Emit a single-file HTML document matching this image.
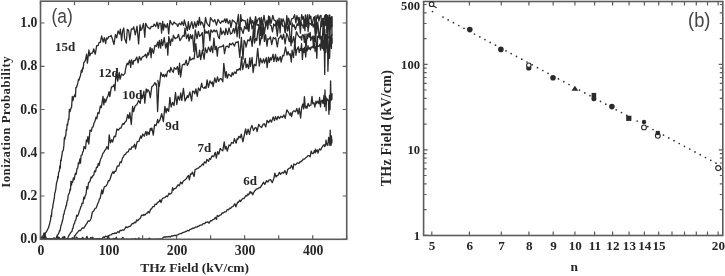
<!DOCTYPE html>
<html><head><meta charset="utf-8"><title>Figure</title>
<style>html,body{margin:0;padding:0;background:#fff;width:725px;height:276px;overflow:hidden}svg{display:block;filter:grayscale(1) blur(0.3px)}</style>
</head><body>
<svg width="725" height="276" viewBox="0 0 725 276">
<rect width="725" height="276" fill="#fff"/>
<path d="M40.5 239.3v-4 M40.5 1.2v4 M74.5 239.3v-4 M74.5 1.2v4 M108.5 239.3v-4 M108.5 1.2v4 M142.6 239.3v-4 M142.6 1.2v4 M176.6 239.3v-4 M176.6 1.2v4 M210.6 239.3v-4 M210.6 1.2v4 M244.6 239.3v-4 M244.6 1.2v4 M278.7 239.3v-4 M278.7 1.2v4 M312.7 239.3v-4 M312.7 1.2v4 M346.7 239.3v-4 M346.7 1.2v4 M40.5 239.3h4 M346.7 239.3h-4 M40.5 196.0h4 M346.7 196.0h-4 M40.5 152.8h4 M346.7 152.8h-4 M40.5 109.5h4 M346.7 109.5h-4 M40.5 66.3h4 M346.7 66.3h-4 M40.5 23.0h4 M346.7 23.0h-4" stroke="#5c5c5c" stroke-width="1.2" fill="none"/>
<path d="M41.0 239.2 L42.4 237.7 L43.2 235.4 L44.0 233.9 L45.5 232.8 L46.5 231.8 L47.6 229.4 L48.4 228.0 L49.2 225.2 L49.6 224.0 L50.0 221.8 L50.5 220.2 L51.0 215.5 L51.5 216.5 L52.0 209.7 L52.6 208.2 L53.1 204.2 L53.5 202.3 L53.9 199.9 L54.3 198.2 L54.8 192.8 L55.3 192.0 L55.9 188.4 L56.4 183.8 L56.9 181.5 L57.4 180.3 L57.8 176.4 L58.2 177.9 L58.6 172.5 L59.0 171.7 L59.4 171.1 L59.8 166.0 L60.3 168.0 L60.7 159.8 L61.1 160.9 L61.6 156.9 L62.0 155.0 L62.4 151.5 L62.9 151.0 L63.4 149.7 L63.9 145.4 L64.4 137.7 L64.9 139.2 L65.3 136.0 L65.8 135.8 L66.2 129.6 L66.7 130.2 L67.1 124.2 L67.5 125.5 L68.0 122.2 L68.5 118.8 L68.9 119.4 L69.4 109.3 L70.1 111.7 L70.8 108.7 L71.6 107.1 L72.3 96.5 L73.0 100.6 L73.6 96.8 L74.2 96.6 L74.8 94.6 L75.4 96.8 L75.9 87.5 L76.5 87.5 L77.2 85.3 L77.9 82.7 L78.5 79.4 L79.1 80.1 L79.8 77.1 L80.4 76.0 L81.4 70.2 L82.1 72.2 L82.6 67.8 L83.1 69.0 L83.8 62.6 L84.5 62.0 L85.5 59.9 L86.6 54.2 L87.4 63.1 L88.9 50.0 L89.8 55.8 L90.9 53.1 L92.5 53.2 L93.7 48.8 L95.3 54.2 L96.7 45.6 L98.2 45.7 L99.1 42.3 L100.4 42.4 L101.6 36.0 L103.2 42.1 L104.3 37.6 L105.7 43.5 L106.5 37.9 L107.6 39.0 L108.7 36.6 L109.6 36.7 L111.2 35.5 L112.3 38.8 L114.0 44.5 L115.4 34.6 L116.7 37.8 L118.1 30.9 L119.5 34.1 L120.4 29.2 L121.6 40.6 L122.6 31.2 L123.8 28.0 L124.6 38.4 L126.3 43.1 L127.3 29.3 L128.7 30.6 L129.8 40.0 L131.4 28.9 L132.8 29.2 L133.7 26.8 L135.3 34.9 L137.0 26.2 L138.6 43.9 L140.0 24.8 L140.9 30.3 L141.8 29.0 L143.5 23.5 L144.8 37.3 L145.7 23.3 L147.3 26.8 L148.7 27.9 L150.1 28.9 L151.2 26.4 L152.3 26.6 L153.3 26.2 L154.1 24.1 L155.7 26.5 L157.0 22.2 L158.3 28.4 L159.3 23.1 L160.8 23.3 L161.6 33.2 L162.7 21.5 L163.5 30.0 L164.4 24.1 L166.1 27.6 L167.5 23.5 L168.7 33.9 L170.0 20.4 L171.6 23.7 L172.7 24.8 L174.0 22.0 L175.5 23.7 L176.6 23.9 L177.8 26.4 L179.3 23.1 L181.0 24.9 L181.9 21.7 L183.6 25.4 L184.3 20.0 L185.8 25.3 L187.4 30.7 L188.3 21.7 L189.5 29.4 L191.0 23.8 L191.8 21.6 L193.2 28.7 L194.7 21.9 L196.0 27.3 L197.5 20.8 L198.4 25.5 L199.4 17.4 L200.5 24.9 L201.4 21.9 L202.5 23.0 L204.2 28.2 L205.5 17.5 L206.6 22.6 L207.7 24.3 L209.4 26.4 L210.5 17.7 L212.3 20.4 L213.5 21.7 L214.8 19.6 L216.5 25.2 L218.0 19.3 L219.3 21.5 L220.5 23.4 L222.1 20.9 L223.3 21.9 L224.9 18.9 L225.7 22.6 L226.9 18.7 L228.2 23.7 L229.9 20.3 L230.9 27.5 L232.4 20.0 L233.9 21.2 L235.3 22.6 L236.7 25.1 L238.4 14.5 L239.5 38.0 L240.7 14.6 L241.6 21.3 L242.4 19.7 L243.4 20.6 L245.1 20.7 L246.6 28.5 L247.5 19.2 L248.9 31.1 L250.1 17.2 L251.4 23.8 L252.8 20.7 L253.9 26.3 L255.6 16.6 L256.8 22.9 L258.2 19.0 L259.6 17.9 L260.5 35.7 L261.3 17.4 L262.5 24.8 L264.0 15.4 L265.6 25.7 L267.1 20.1 L267.9 25.4 L269.6 16.7 L271.1 23.4 L272.8 15.3 L274.0 19.9 L275.7 21.1 L276.5 29.9 L277.3 19.9 L278.1 25.2 L279.1 18.1 L280.1 32.9 L281.0 18.7 L282.3 22.0 L283.1 18.8 L284.4 22.6 L285.4 32.7 L286.8 15.6 L287.6 24.4 L288.6 18.1 L290.3 24.7 L291.6 18.8 L293.2 18.3 L294.6 14.7 L295.9 22.8 L296.9 15.6 L298.2 20.6 L299.0 17.6 L300.5 24.8 L301.7 14.6 L302.8 19.3 L303.3 16.7 L304.1 22.8 L304.8 23.8 L305.4 14.8 L306.3 25.7 L307.4 14.8 L308.1 31.8 L309.2 14.7 L310.2 18.5 L310.8 16.2 L311.9 25.4 L313.0 20.5 L313.6 17.8 L314.5 16.8 L315.5 39.6 L316.4 17.6 L317.0 18.3 L317.9 14.9 L318.9 21.2 L319.9 16.0 L321.0 15.4 L321.7 26.6 L322.7 18.5 L323.8 19.4 L324.9 15.3 L325.3 24.2 L325.6 14.7 L326.1 22.4 L326.4 15.1 L326.9 17.1 L327.5 15.4 L327.9 25.4 L328.3 17.7 L328.7 20.2 L329.2 14.9 L329.5 22.5 L329.9 15.5 L330.2 27.1 L330.7 17.6 L331.3 23.1 L331.7 17.7 L332.0 35.7" fill="none" stroke="#2a2a2a" stroke-width="1.3" stroke-linejoin="round"/>
<path d="M41.0 239.2 L42.1 237.1 L43.5 239.2 L44.8 239.2 L46.5 239.2 L47.6 239.2 L48.8 239.0 L50.1 239.2 L51.8 239.2 L53.2 239.2 L54.4 239.2 L56.0 239.2 L57.2 235.2 L58.1 234.4 L58.9 232.9 L59.5 230.7 L60.0 230.9 L60.9 226.0 L61.6 224.0 L62.4 220.8 L63.0 219.0 L63.5 214.5 L64.0 214.4 L64.5 211.1 L65.1 209.4 L65.5 208.5 L66.0 205.7 L66.4 205.7 L67.1 200.9 L67.7 200.3 L68.1 196.1 L68.5 194.4 L69.3 193.4 L70.1 189.0 L70.5 190.2 L70.9 181.2 L71.5 185.1 L72.0 181.6 L72.6 182.4 L73.4 177.9 L74.2 179.6 L75.3 173.3 L76.2 174.2 L77.0 168.6 L77.8 167.9 L78.4 162.8 L79.0 163.9 L79.9 158.8 L80.5 163.1 L81.1 155.3 L82.1 155.0 L82.7 152.0 L83.3 151.3 L84.0 146.3 L84.7 147.7 L85.5 148.7 L86.4 139.8 L87.1 141.9 L87.9 136.6 L88.8 144.0 L90.0 130.1 L91.3 131.3 L92.2 127.2 L93.0 127.2 L93.9 123.6 L95.1 120.8 L96.0 117.2 L96.8 118.8 L97.9 112.6 L99.0 113.5 L100.3 106.0 L101.3 107.6 L103.0 96.4 L103.8 104.8 L104.8 98.9 L105.6 102.2 L107.1 97.6 L108.1 95.5 L109.0 91.7 L109.8 96.6 L111.4 87.2 L113.1 86.4 L114.1 84.7 L114.9 90.5 L116.0 73.0 L117.7 81.1 L119.2 72.5 L120.0 79.2 L121.5 74.0 L123.2 75.3 L124.9 73.3 L125.6 69.1 L126.3 65.7 L127.2 63.2 L128.0 64.8 L129.6 60.1 L130.7 67.4 L131.5 59.8 L133.0 64.5 L133.9 60.4 L135.0 60.7 L136.8 57.1 L138.1 62.8 L139.3 56.6 L141.0 60.1 L142.1 57.2 L143.8 56.4 L145.5 54.3 L146.6 57.8 L147.7 53.0 L148.5 55.0 L150.2 47.5 L151.1 57.8 L151.9 48.4 L153.5 53.3 L154.9 45.4 L156.3 46.3 L157.8 42.0 L158.6 47.9 L159.4 40.3 L160.7 48.2 L161.5 39.3 L162.7 45.6 L164.2 37.5 L165.6 48.0 L167.0 42.6 L167.8 55.1 L168.8 36.4 L170.4 45.5 L171.3 38.9 L172.6 41.3 L173.4 35.2 L175.1 38.7 L176.0 37.8 L177.2 37.9 L178.5 34.3 L179.9 40.7 L181.6 38.0 L183.1 35.4 L184.2 36.3 L185.0 28.1 L186.5 38.5 L188.2 34.2 L189.0 41.1 L190.5 34.7 L191.4 38.6 L192.6 34.9 L193.9 51.6 L195.3 29.8 L197.0 38.7 L198.4 31.3 L199.6 36.3 L201.0 35.0 L202.3 32.6 L203.4 50.3 L204.5 29.2 L205.8 33.4 L206.8 31.5 L207.8 33.3 L208.7 30.7 L209.9 40.6 L210.9 29.9 L212.5 32.2 L214.1 30.0 L215.2 31.8 L216.6 30.2 L218.2 36.6 L219.4 38.6 L220.7 28.0 L221.8 34.5 L223.3 30.9 L225.0 34.9 L225.8 28.5 L227.6 34.6 L229.0 27.8 L230.5 34.0 L231.9 33.3 L233.5 28.4 L234.6 33.1 L236.1 25.0 L237.1 36.8 L238.3 26.4 L239.8 29.7 L240.7 27.4 L241.5 29.1 L243.1 33.4 L244.6 26.5 L246.0 28.9 L247.1 26.5 L248.5 31.1 L249.4 24.2 L250.8 19.1 L252.1 29.0 L253.5 25.2 L254.7 37.1 L255.6 20.4 L257.1 25.3 L258.3 24.5 L259.8 29.8 L260.9 20.1 L261.8 36.7 L263.1 23.7 L264.4 33.4 L266.1 21.4 L267.8 29.0 L268.6 15.8 L270.1 25.1 L271.1 25.6 L272.5 31.8 L273.7 24.0 L274.7 25.7 L276.0 23.4 L277.3 36.2 L278.7 23.3 L280.1 28.4 L281.5 20.8 L282.7 26.1 L284.1 26.1 L285.2 32.5 L286.5 22.3 L287.7 31.0 L289.1 23.2 L289.8 35.0 L291.1 45.6 L292.0 23.0 L293.2 26.5 L294.0 24.9 L295.4 29.5 L297.1 23.9 L298.2 25.7 L299.0 17.4 L300.4 33.1 L301.0 22.3 L302.1 25.2 L302.7 25.2 L303.4 28.2 L304.3 19.7 L304.9 30.6 L305.6 21.1 L306.3 25.8 L307.3 26.9 L308.5 28.1 L309.2 22.8 L310.3 24.1 L310.9 23.7 L311.8 24.9 L312.6 24.1 L313.3 27.2 L314.4 23.0 L315.4 33.4 L316.0 15.7 L316.7 33.3 L317.8 22.2 L319.0 35.3 L319.9 36.0 L321.0 21.7 L322.2 24.7 L323.2 20.1 L324.1 31.9 L324.5 21.1 L324.9 25.9 L325.4 20.2 L326.0 25.2 L326.4 14.6 L326.8 32.7 L327.0 17.7 L327.6 17.4 L328.0 35.6 L328.6 21.2 L328.9 22.4 L329.4 20.7 L329.9 44.2 L330.4 19.6 L330.7 28.5 L331.1 19.3 L331.7 16.6 L332.0 26.5 L332.0 15.9" fill="none" stroke="#2a2a2a" stroke-width="1.3" stroke-linejoin="round"/>
<path d="M41.0 237.0 L42.7 239.2 L43.6 239.2 L44.9 239.2 L45.7 236.7 L46.7 239.2 L48.2 239.2 L49.0 239.2 L50.1 239.2 L51.1 239.2 L52.7 239.2 L53.5 239.2 L54.6 239.2 L56.2 239.2 L57.6 236.4 L59.1 239.2 L60.8 239.2 L61.6 239.2 L63.0 239.2 L64.5 238.6 L66.0 239.2 L67.5 239.2 L68.3 236.8 L69.1 235.2 L70.7 232.6 L71.3 231.9 L72.0 231.3 L72.5 228.5 L73.0 228.4 L73.8 224.0 L74.4 223.8 L75.1 220.9 L75.9 219.8 L76.7 215.2 L77.4 216.3 L78.5 214.2 L79.3 211.1 L80.1 209.2 L80.9 206.5 L81.5 205.8 L82.1 203.2 L83.0 203.5 L83.8 197.2 L84.5 198.8 L85.2 195.7 L85.8 194.6 L86.3 192.3 L86.8 186.6 L87.7 188.8 L88.5 183.0 L89.3 182.0 L90.0 181.4 L91.1 177.0 L91.9 177.8 L92.7 175.9 L93.8 174.9 L94.6 170.9 L95.5 171.8 L96.5 167.2 L97.4 167.4 L98.3 163.5 L99.1 165.3 L99.8 162.0 L100.6 159.2 L101.6 157.2 L102.8 153.6 L104.2 151.6 L105.0 150.0 L105.9 149.2 L106.8 146.7 L108.3 149.1 L109.2 134.9 L110.5 142.9 L111.6 139.8 L112.6 142.1 L114.2 136.1 L115.5 136.7 L116.9 128.9 L118.4 130.1 L119.9 128.1 L120.9 128.2 L121.8 125.7 L123.0 123.5 L123.9 124.4 L124.7 122.5 L126.3 120.9 L127.7 114.6 L128.9 118.5 L129.8 112.6 L131.3 124.5 L132.6 106.3 L133.5 111.7 L135.2 105.7 L136.9 104.6 L138.6 100.5 L140.2 103.4 L141.5 94.8 L142.5 98.2 L143.9 91.2 L144.8 103.1 L146.2 88.9 L147.0 92.2 L147.8 89.7 L149.2 91.4 L150.3 97.7 L151.8 86.8 L153.3 85.5 L154.9 82.6 L156.2 85.4 L156.6 84.0 L157.6 111.5 L158.8 86.0 L157.8 80.5 L159.3 86.4 L160.9 72.5 L162.6 76.4 L163.4 74.4 L164.4 76.8 L165.5 74.3 L166.5 76.7 L167.5 71.4 L169.1 70.2 L169.9 72.4 L170.8 67.5 L172.3 71.1 L173.3 72.2 L174.3 67.7 L176.0 69.2 L177.5 66.6 L178.7 74.5 L179.6 63.1 L180.6 77.0 L182.3 65.1 L183.9 64.1 L184.7 64.9 L186.2 60.1 L187.3 65.4 L188.8 62.7 L189.8 56.8 L190.7 60.2 L191.5 59.6 L192.5 58.5 L194.1 58.8 L195.8 43.6 L197.2 57.3 L198.7 56.9 L199.6 50.2 L200.7 59.7 L202.4 50.0 L204.1 59.1 L205.3 48.0 L206.8 52.9 L208.5 47.1 L210.3 51.6 L211.3 46.2 L212.7 52.6 L213.9 38.1 L215.1 49.8 L216.3 46.3 L217.3 56.2 L218.1 48.0 L219.6 46.9 L221.0 46.9 L222.6 46.1 L223.5 45.0 L224.5 53.7 L225.9 46.6 L227.6 46.1 L228.8 47.6 L229.7 43.4 L231.1 44.7 L232.8 43.0 L234.4 46.1 L236.0 42.1 L237.2 42.4 L238.2 41.4 L239.8 57.4 L241.4 37.5 L243.0 59.3 L244.1 40.4 L245.2 42.3 L246.1 47.2 L247.8 39.8 L249.4 40.9 L250.6 36.5 L252.2 46.3 L253.3 30.2 L254.5 43.0 L255.8 38.2 L256.8 40.5 L257.8 31.5 L258.8 27.7 L259.8 45.2 L261.1 37.5 L262.0 38.6 L263.5 27.4 L264.4 41.4 L265.6 34.7 L267.0 46.2 L267.9 38.7 L269.0 39.3 L270.4 36.8 L271.7 44.7 L273.3 37.4 L274.8 38.9 L275.7 37.8 L277.3 46.8 L278.6 38.4 L280.0 37.3 L280.9 34.9 L282.2 39.4 L283.6 34.2 L285.1 44.0 L286.7 33.4 L287.7 35.7 L289.3 41.5 L290.6 36.7 L292.0 42.9 L293.6 36.7 L294.7 44.3 L296.4 31.7 L298.0 35.1 L299.6 37.3 L300.7 36.8 L301.6 40.2 L302.2 34.8 L303.3 34.8 L304.4 42.3 L305.0 34.1 L306.0 50.4 L307.0 34.0 L307.5 38.7 L308.7 33.6 L309.5 37.2 L310.2 32.4 L310.7 40.5 L311.8 37.5 L312.5 36.3 L313.4 45.4 L314.0 36.0 L314.9 41.6 L315.7 34.1 L316.8 58.3 L317.7 36.1 L318.7 37.4 L319.4 32.3 L320.0 39.2 L321.1 36.1 L322.2 43.2 L323.2 22.5 L324.3 41.2 L324.8 29.5 L325.3 41.3 L325.7 34.7 L326.1 38.8 L326.6 34.6 L326.9 48.1 L327.4 31.1 L327.8 40.8 L328.1 38.0 L328.5 37.9 L328.9 36.8 L329.4 36.3 L329.9 38.2 L330.4 44.6 L330.9 36.1 L331.4 48.5 L331.8 34.4 L332.0 41.9" fill="none" stroke="#2a2a2a" stroke-width="1.3" stroke-linejoin="round"/>
<path d="M41.0 239.2 L42.3 239.2 L43.7 239.2 L44.8 239.2 L45.7 239.2 L47.2 239.2 L48.8 239.2 L49.7 239.2 L50.6 239.2 L51.7 239.2 L53.1 239.2 L54.2 239.2 L55.9 239.2 L57.4 239.0 L59.1 237.4 L60.5 239.2 L62.0 239.0 L63.7 239.2 L64.5 236.5 L65.8 239.2 L66.7 239.2 L68.3 239.2 L69.2 239.2 L70.7 239.2 L71.8 239.2 L73.2 239.2 L74.6 236.3 L76.3 233.8 L77.9 231.9 L79.1 230.3 L80.6 230.5 L81.5 229.0 L82.3 228.0 L83.8 228.2 L85.5 225.3 L87.0 223.2 L88.2 220.8 L89.6 221.2 L91.1 218.5 L92.4 212.0 L93.5 211.3 L95.1 208.4 L96.2 208.0 L97.9 203.3 L98.7 201.8 L99.4 199.0 L100.2 198.2 L101.0 194.2 L101.8 189.8 L102.6 193.8 L103.4 190.5 L104.3 186.8 L106.0 186.1 L107.3 184.0 L108.4 180.6 L109.2 180.9 L109.9 179.5 L111.6 174.3 L113.0 171.5 L113.8 173.4 L114.6 171.4 L115.8 171.3 L117.3 166.0 L118.9 166.1 L120.1 161.8 L121.3 162.6 L122.6 157.7 L123.4 157.1 L124.2 155.0 L125.5 154.4 L126.7 152.3 L128.3 151.7 L129.3 148.9 L130.9 149.4 L131.9 146.8 L133.2 147.2 L134.6 144.2 L135.5 148.8 L137.2 141.7 L138.9 141.3 L140.7 135.9 L141.4 138.4 L142.8 134.0 L144.2 136.2 L145.9 131.3 L146.8 135.3 L147.7 131.8 L149.2 134.6 L150.3 128.4 L151.1 130.3 L151.9 128.0 L153.3 135.2 L154.6 124.7 L156.1 125.6 L157.7 119.4 L158.4 122.8 L160.1 119.5 L161.7 113.7 L163.4 121.5 L164.9 106.4 L166.1 112.9 L167.0 108.4 L168.7 111.3 L169.9 97.3 L171.1 107.0 L172.6 102.4 L174.0 105.6 L175.5 92.5 L176.8 104.5 L178.1 96.2 L179.6 100.1 L180.7 93.0 L181.8 100.4 L183.4 88.4 L185.0 101.0 L186.5 97.9 L187.4 95.6 L188.2 97.7 L189.9 92.0 L191.6 100.9 L192.6 91.2 L194.0 91.7 L194.7 93.8 L195.9 88.8 L197.3 96.4 L198.4 88.0 L200.0 90.7 L201.7 83.2 L202.5 87.3 L204.0 88.3 L205.1 86.8 L206.0 88.3 L207.1 79.9 L208.4 87.3 L210.0 81.0 L211.5 83.8 L212.3 81.9 L213.1 86.6 L214.8 77.8 L216.1 82.6 L217.5 76.9 L218.6 81.3 L220.2 78.7 L221.5 78.8 L222.8 81.8 L223.8 63.4 L225.4 77.1 L226.3 71.6 L227.2 78.2 L228.6 74.2 L230.1 75.3 L231.2 76.6 L232.2 72.7 L233.1 75.1 L234.5 71.9 L236.0 73.5 L236.9 69.6 L238.2 70.2 L239.5 68.5 L240.3 70.1 L241.6 56.9 L242.6 69.5 L243.6 65.4 L245.3 58.4 L246.1 67.7 L247.2 64.2 L248.6 68.6 L249.8 57.9 L250.5 66.4 L252.1 57.5 L253.1 72.5 L254.3 64.3 L256.0 65.7 L257.7 48.3 L259.3 66.0 L260.5 58.4 L262.0 62.9 L263.6 58.8 L264.5 63.1 L266.3 57.6 L267.1 67.6 L268.5 57.1 L269.5 62.4 L270.5 57.7 L271.4 60.0 L273.1 54.2 L273.9 61.7 L275.6 54.5 L276.5 61.7 L277.6 57.2 L278.5 60.7 L280.3 56.6 L281.1 62.1 L282.7 55.5 L283.8 55.8 L285.5 47.0 L287.0 55.1 L288.0 51.6 L289.3 55.0 L290.2 53.8 L291.3 62.0 L292.1 50.1 L293.5 57.5 L294.9 40.9 L295.9 55.3 L296.7 50.1 L298.4 46.9 L299.2 52.7 L300.3 48.6 L300.8 50.4 L301.6 43.7 L302.4 59.4 L303.3 48.4 L304.0 52.3 L304.7 47.2 L305.7 57.0 L306.4 48.5 L307.2 50.9 L308.0 45.7 L308.7 49.2 L309.7 47.7 L310.3 49.9 L311.0 47.1 L311.8 47.8 L312.5 46.2 L313.6 47.9 L314.3 42.9 L315.1 51.5 L315.9 46.6 L317.0 47.0 L317.7 45.9 L318.7 46.4 L319.9 44.2 L320.6 50.0 L321.2 38.8 L322.3 48.4 L323.0 38.0 L323.6 50.2 L324.2 40.4 L324.7 74.4 L325.3 36.3 L325.9 52.3 L326.4 42.5 L326.8 47.6 L327.4 33.5 L327.9 71.3 L328.6 50.5 L329.1 40.6 L329.6 58.3 L330.1 42.2 L330.4 47.0 L330.8 42.4 L331.1 41.9 L331.7 38.2 L332.0 44.0" fill="none" stroke="#2a2a2a" stroke-width="1.3" stroke-linejoin="round"/>
<path d="M41.0 238.1 L42.6 236.5 L44.2 238.1 L45.2 239.2 L46.2 238.4 L47.1 239.2 L48.1 239.0 L49.0 239.2 L50.5 239.2 L51.3 239.2 L52.3 239.2 L53.8 237.9 L55.3 238.3 L57.0 239.2 L58.2 238.6 L59.0 239.2 L60.5 239.2 L61.6 239.2 L63.1 236.8 L63.9 239.2 L64.6 238.3 L66.0 239.2 L67.4 239.1 L68.7 239.2 L70.0 239.2 L71.4 239.2 L72.2 237.7 L73.1 239.1 L74.2 239.2 L75.5 239.2 L76.5 239.2 L77.4 239.2 L78.6 239.2 L79.7 238.5 L80.8 239.2 L82.4 238.4 L84.1 239.2 L84.9 239.2 L86.2 239.2 L87.1 239.2 L88.2 239.2 L89.0 239.2 L89.8 239.2 L90.6 237.6 L91.5 238.4 L92.9 237.5 L93.7 239.2 L95.4 239.2 L96.9 239.2 L97.9 239.2 L99.4 239.0 L101.1 238.8 L101.9 239.2 L103.3 236.9 L104.5 237.3 L105.5 236.2 L106.6 236.7 L107.4 236.3 L108.8 235.8 L109.7 235.1 L110.9 234.9 L112.6 233.6 L113.7 233.6 L114.8 233.0 L116.4 233.3 L117.8 231.6 L119.1 232.6 L120.1 230.3 L121.5 230.5 L122.6 229.9 L123.9 230.2 L125.0 228.6 L125.9 226.8 L127.5 227.6 L128.9 226.5 L130.6 226.1 L131.7 224.2 L132.7 223.3 L133.6 223.6 L134.7 222.1 L135.7 222.7 L136.7 219.9 L137.7 220.9 L138.7 219.4 L140.3 218.2 L141.5 215.2 L143.1 215.5 L143.9 214.4 L144.9 215.1 L146.6 213.1 L147.4 213.2 L148.2 211.5 L149.4 212.9 L150.5 209.2 L151.4 209.0 L152.8 206.6 L154.1 206.7 L155.1 204.1 L156.4 204.4 L157.6 202.4 L159.2 201.7 L160.0 199.8 L161.0 202.6 L162.3 198.5 L163.1 198.2 L164.7 197.7 L166.4 196.0 L167.5 196.7 L169.0 193.2 L170.0 194.2 L171.7 193.0 L172.6 187.6 L173.4 190.1 L174.2 188.7 L175.4 188.3 L176.2 187.9 L178.0 184.8 L179.3 185.8 L180.7 182.0 L182.0 183.9 L183.2 181.3 L184.8 180.0 L186.3 178.7 L187.5 176.6 L188.5 175.5 L189.4 179.8 L190.5 173.9 L191.6 174.2 L192.4 172.1 L194.1 176.5 L195.1 169.6 L196.4 169.1 L197.2 168.4 L198.5 168.2 L199.9 166.5 L200.7 166.5 L202.4 164.0 L203.4 165.1 L204.4 161.8 L205.9 163.0 L206.9 159.3 L208.6 161.3 L209.6 158.4 L210.6 159.3 L212.1 155.8 L213.7 156.6 L215.3 152.3 L216.3 158.0 L217.6 151.6 L218.8 154.3 L220.2 148.5 L221.2 149.7 L222.8 150.8 L224.2 141.8 L225.2 149.1 L226.2 146.5 L227.3 151.1 L229.0 145.0 L230.2 145.8 L231.6 142.4 L233.3 143.3 L234.4 138.7 L236.1 143.2 L237.1 138.6 L237.9 139.4 L238.8 136.3 L240.2 137.9 L241.3 134.2 L242.9 141.9 L244.2 135.5 L245.6 129.0 L246.7 134.6 L248.1 129.1 L249.5 134.4 L250.6 128.7 L251.9 125.4 L253.5 130.5 L255.2 127.6 L256.3 127.9 L257.1 131.7 L258.7 124.4 L259.9 126.2 L261.6 127.5 L263.1 124.4 L264.2 123.7 L265.8 126.9 L267.1 120.3 L268.6 122.6 L270.2 119.9 L271.5 122.1 L273.2 116.9 L274.4 120.6 L275.5 116.7 L276.9 119.8 L278.1 116.3 L279.5 118.5 L280.8 116.3 L282.3 117.6 L283.9 114.9 L285.2 118.3 L286.8 110.0 L288.4 112.2 L290.0 115.2 L290.8 112.7 L291.5 116.6 L292.9 111.6 L294.0 110.8 L295.6 111.8 L296.8 108.4 L298.2 114.0 L299.2 108.2 L300.6 118.0 L301.7 107.4 L302.8 104.0 L303.6 108.8 L304.4 96.6 L305.3 107.9 L306.1 106.1 L306.9 108.4 L308.1 103.3 L309.2 106.2 L309.9 105.4 L310.9 105.2 L312.0 96.3 L312.8 103.8 L313.9 102.7 L314.9 107.0 L316.0 101.1 L316.6 103.5 L317.7 101.2 L318.9 103.8 L319.6 97.5 L320.5 106.9 L321.1 101.2 L322.0 100.2 L323.0 103.6 L324.0 95.4 L324.6 106.6 L325.0 89.9 L325.3 103.8 L325.9 97.0 L326.1 110.7 L326.5 98.3 L326.8 100.5 L327.4 99.1 L327.8 100.4 L328.4 100.2 L328.9 114.3 L329.5 95.4 L330.0 109.7 L330.6 80.8 L331.0 100.5 L331.4 94.1 L331.9 99.4 L332.0 93.2" fill="none" stroke="#2a2a2a" stroke-width="1.3" stroke-linejoin="round"/>
<path d="M41.0 239.2 L42.7 239.2 L44.4 239.2 L45.7 239.2 L46.7 239.2 L47.9 239.2 L48.9 238.9 L50.0 239.2 L51.1 239.2 L52.0 239.2 L52.8 239.2 L54.3 238.6 L55.1 239.2 L56.4 238.2 L57.5 239.2 L58.9 239.2 L60.3 239.2 L61.5 239.2 L63.0 239.2 L64.3 239.2 L66.0 239.2 L67.3 239.2 L68.9 239.2 L70.6 239.2 L72.0 238.7 L73.1 238.4 L74.3 239.2 L75.2 239.2 L76.6 237.1 L78.0 239.2 L79.6 239.2 L80.4 238.6 L81.3 239.2 L82.7 237.5 L84.2 239.2 L85.0 239.2 L85.8 239.2 L86.9 236.3 L88.0 239.2 L88.8 239.2 L89.6 239.2 L90.6 239.2 L91.3 239.2 L92.2 237.4 L93.0 239.2 L94.1 239.2 L95.6 239.2 L97.0 238.7 L98.4 239.2 L99.6 238.7 L100.5 239.2 L101.3 239.2 L102.3 239.2 L104.0 239.2 L105.5 238.8 L106.9 239.2 L108.2 236.7 L109.7 239.2 L111.3 239.2 L112.3 239.2 L113.8 238.4 L115.2 239.2 L116.3 237.3 L117.3 239.2 L118.2 239.2 L119.5 239.2 L121.2 239.2 L122.8 237.4 L123.7 238.9 L124.6 239.2 L125.6 239.2 L126.5 239.2 L127.4 239.2 L128.9 239.2 L129.9 239.2 L131.3 239.2 L132.3 239.0 L134.1 239.2 L135.4 238.6 L136.3 238.9 L137.8 239.2 L138.9 237.9 L140.1 239.2 L141.1 239.2 L142.3 239.2 L143.4 239.2 L144.5 239.2 L145.4 239.2 L147.1 239.2 L148.0 239.2 L149.1 238.1 L150.2 239.0 L151.1 239.2 L152.1 239.2 L153.2 239.2 L154.6 239.2 L155.9 239.2 L157.0 238.9 L158.4 239.2 L159.9 238.8 L160.9 239.1 L161.9 239.0 L163.3 237.3 L164.4 236.8 L166.0 237.0 L166.8 236.7 L168.1 236.8 L169.2 236.4 L170.1 237.1 L171.7 235.8 L172.7 236.0 L174.3 235.3 L175.9 235.5 L177.6 234.8 L178.4 234.4 L179.3 234.0 L180.2 233.7 L181.3 233.5 L182.9 232.6 L184.3 232.2 L185.2 231.7 L186.1 231.5 L187.6 230.4 L188.9 230.8 L189.7 229.6 L191.0 229.2 L192.0 228.7 L193.0 228.0 L193.9 228.3 L195.6 227.1 L196.8 227.1 L198.2 226.1 L199.1 226.1 L200.3 225.1 L201.6 225.2 L203.1 223.7 L204.8 223.6 L205.8 222.2 L206.8 222.5 L207.9 221.8 L209.0 223.2 L210.6 220.6 L211.7 220.8 L212.8 219.6 L214.1 219.4 L215.4 217.4 L216.5 219.3 L217.2 215.5 L218.7 216.5 L219.6 215.1 L221.2 214.8 L222.2 212.9 L223.2 213.1 L224.5 212.0 L226.1 211.6 L227.3 209.5 L228.5 209.9 L229.7 208.2 L230.5 208.5 L231.6 207.1 L233.2 206.2 L234.9 203.7 L235.9 206.8 L237.6 202.2 L238.4 202.3 L239.8 200.1 L240.6 201.5 L241.8 199.7 L243.0 198.3 L244.1 198.5 L245.8 195.7 L246.9 196.0 L247.7 194.1 L248.6 194.9 L250.1 191.5 L250.9 193.1 L251.7 192.2 L252.7 194.8 L254.4 191.2 L255.6 190.0 L256.5 188.8 L257.9 188.8 L259.0 187.6 L260.3 187.6 L262.1 184.6 L263.5 182.3 L264.8 184.4 L266.6 180.6 L267.8 182.1 L269.0 180.1 L270.6 179.6 L272.3 182.6 L273.8 178.5 L274.9 173.2 L276.1 177.1 L276.8 175.6 L277.8 175.7 L279.4 172.4 L280.6 174.3 L282.2 172.4 L283.6 173.1 L284.9 170.5 L286.5 174.4 L287.7 169.5 L289.2 168.2 L290.4 168.0 L291.5 165.2 L293.0 169.4 L293.8 164.0 L295.6 164.9 L297.3 162.8 L298.9 163.4 L300.1 161.5 L300.9 161.9 L301.7 160.9 L302.5 160.4 L303.2 159.1 L304.2 159.2 L305.3 158.3 L306.2 157.4 L307.3 156.5 L308.0 155.7 L309.1 155.6 L310.2 156.7 L311.2 151.1 L312.4 153.7 L313.4 153.4 L314.4 150.4 L315.2 153.0 L315.7 149.2 L316.3 151.6 L317.4 150.0 L318.0 153.1 L319.0 149.9 L319.6 148.9 L320.7 150.0 L321.8 147.6 L322.7 146.4 L323.3 145.1 L324.3 144.8 L324.7 146.7 L325.3 144.5 L325.6 145.6 L326.0 140.1 L326.6 144.2 L327.2 143.6 L327.8 145.6 L328.2 141.8 L328.7 137.4 L329.4 141.9 L329.9 145.5 L330.2 130.2 L330.5 143.9 L330.8 136.9 L331.1 145.2 L331.4 135.9 L331.8 143.0 L332.0 139.1" fill="none" stroke="#2a2a2a" stroke-width="1.3" stroke-linejoin="round"/>
<rect x="43.3" y="232.6" width="2.6" height="6.4" fill="#2a2a2a"/>
<rect x="40.5" y="1.2" width="306.2" height="238.1" fill="none" stroke="#5c5c5c" stroke-width="1.6"/>
<text x="37.4" y="243.3" text-anchor="end" style="font-family:'Liberation Serif',serif;font-weight:bold;font-size:13.7px" fill="#262626">0.0</text>
<text x="37.4" y="200.0" text-anchor="end" style="font-family:'Liberation Serif',serif;font-weight:bold;font-size:13.7px" fill="#262626">0.2</text>
<text x="37.4" y="156.8" text-anchor="end" style="font-family:'Liberation Serif',serif;font-weight:bold;font-size:13.7px" fill="#262626">0.4</text>
<text x="37.4" y="113.5" text-anchor="end" style="font-family:'Liberation Serif',serif;font-weight:bold;font-size:13.7px" fill="#262626">0.6</text>
<text x="37.4" y="70.3" text-anchor="end" style="font-family:'Liberation Serif',serif;font-weight:bold;font-size:13.7px" fill="#262626">0.8</text>
<text x="37.4" y="27.0" text-anchor="end" style="font-family:'Liberation Serif',serif;font-weight:bold;font-size:13.7px" fill="#262626">1.0</text>
<text x="41.0" y="254.5" text-anchor="middle" style="font-family:'Liberation Serif',serif;font-weight:bold;font-size:13.7px" fill="#262626">0</text>
<text x="109.0" y="254.5" text-anchor="middle" style="font-family:'Liberation Serif',serif;font-weight:bold;font-size:13.7px" fill="#262626">100</text>
<text x="177.1" y="254.5" text-anchor="middle" style="font-family:'Liberation Serif',serif;font-weight:bold;font-size:13.7px" fill="#262626">200</text>
<text x="245.1" y="254.5" text-anchor="middle" style="font-family:'Liberation Serif',serif;font-weight:bold;font-size:13.7px" fill="#262626">300</text>
<text x="313.2" y="254.5" text-anchor="middle" style="font-family:'Liberation Serif',serif;font-weight:bold;font-size:13.7px" fill="#262626">400</text>
<text x="194.7" y="272" text-anchor="middle" style="font-family:'Liberation Serif',serif;font-weight:bold;font-size:13.5px" fill="#262626">THz Field (kV/cm)</text>
<text transform="translate(10.0 122.1) rotate(-90)" x="0" y="0" text-anchor="middle" textLength="131.5" lengthAdjust="spacing" style="font-family:'Liberation Serif',serif;font-weight:bold;font-size:12.8px" fill="#262626">Ionization Probability</text>
<text x="51.6" y="23" textLength="21.2" lengthAdjust="spacingAndGlyphs" style="font-family:'Liberation Sans',sans-serif;font-size:20px" fill="#444">(a)</text>
<text x="55.0" y="50.5" style="font-family:'Liberation Serif',serif;font-weight:bold;font-size:13px" fill="#262626">15d</text>
<text x="98.4" y="77.4" style="font-family:'Liberation Serif',serif;font-weight:bold;font-size:13px" fill="#262626">12d</text>
<text x="122.3" y="99.1" style="font-family:'Liberation Serif',serif;font-weight:bold;font-size:13px" fill="#262626">10d</text>
<text x="165.2" y="130.4" style="font-family:'Liberation Serif',serif;font-weight:bold;font-size:13px" fill="#262626">9d</text>
<text x="197.5" y="152.4" style="font-family:'Liberation Serif',serif;font-weight:bold;font-size:13px" fill="#262626">7d</text>
<text x="243.3" y="185.0" style="font-family:'Liberation Serif',serif;font-weight:bold;font-size:13px" fill="#262626">6d</text>
<path d="M431.8 235.5v-4 M431.8 1.5v4 M469.4 235.5v-4 M469.4 1.5v4 M501.3 235.5v-4 M501.3 1.5v4 M528.9 235.5v-4 M528.9 1.5v4 M553.2 235.5v-4 M553.2 1.5v4 M574.9 235.5v-4 M574.9 1.5v4 M594.6 235.5v-4 M594.6 1.5v4 M612.6 235.5v-4 M612.6 1.5v4 M629.1 235.5v-4 M629.1 1.5v4 M644.4 235.5v-4 M644.4 1.5v4 M658.7 235.5v-4 M658.7 1.5v4 M672.0 235.5v-4 M672.0 1.5v4 M684.5 235.5v-4 M684.5 1.5v4 M696.3 235.5v-4 M696.3 1.5v4 M707.5 235.5v-4 M707.5 1.5v4 M718.1 235.5v-4 M718.1 1.5v4 M423.6 235.3h4 M722.8 235.3h-4 M423.6 209.6h3 M722.8 209.6h-3 M423.6 194.5h3 M722.8 194.5h-3 M423.6 183.8h3 M722.8 183.8h-3 M423.6 175.5h3 M722.8 175.5h-3 M423.6 168.8h3 M722.8 168.8h-3 M423.6 163.0h3 M722.8 163.0h-3 M423.6 158.1h3 M722.8 158.1h-3 M423.6 153.7h3 M722.8 153.7h-3 M423.6 149.8h4 M722.8 149.8h-4 M423.6 124.1h3 M722.8 124.1h-3 M423.6 109.0h3 M722.8 109.0h-3 M423.6 98.3h3 M722.8 98.3h-3 M423.6 90.0h3 M722.8 90.0h-3 M423.6 83.3h3 M722.8 83.3h-3 M423.6 77.5h3 M722.8 77.5h-3 M423.6 72.6h3 M722.8 72.6h-3 M423.6 68.2h3 M722.8 68.2h-3 M423.6 64.3h4 M722.8 64.3h-4 M423.6 38.6h3 M722.8 38.6h-3 M423.6 23.5h3 M722.8 23.5h-3 M423.6 12.8h3 M722.8 12.8h-3 M423.6 4.5h3 M722.8 4.5h-3" stroke="#5c5c5c" stroke-width="1.2" fill="none"/>
<rect x="423.6" y="1.5" width="299.2" height="234.0" fill="none" stroke="#5c5c5c" stroke-width="1.6"/>
<g fill="#2a2a2a"><circle cx="432.5" cy="11.5" r="0.85"/><circle cx="443.0" cy="17.1" r="0.85"/><circle cx="448.2" cy="19.9" r="0.85"/><circle cx="453.5" cy="22.7" r="0.85"/><circle cx="458.8" cy="25.5" r="0.85"/><circle cx="464.0" cy="28.3" r="0.85"/><circle cx="474.5" cy="34.0" r="0.85"/><circle cx="479.8" cy="36.8" r="0.85"/><circle cx="485.0" cy="39.6" r="0.85"/><circle cx="490.2" cy="42.4" r="0.85"/><circle cx="495.5" cy="45.2" r="0.85"/><circle cx="506.0" cy="50.8" r="0.85"/><circle cx="511.2" cy="53.6" r="0.85"/><circle cx="516.5" cy="56.4" r="0.85"/><circle cx="521.8" cy="59.2" r="0.85"/><circle cx="527.0" cy="62.0" r="0.85"/><circle cx="532.2" cy="64.8" r="0.85"/><circle cx="537.5" cy="67.7" r="0.85"/><circle cx="542.8" cy="70.5" r="0.85"/><circle cx="548.0" cy="73.3" r="0.85"/><circle cx="558.5" cy="78.9" r="0.85"/><circle cx="563.8" cy="81.7" r="0.85"/><circle cx="569.0" cy="84.5" r="0.85"/><circle cx="579.5" cy="90.1" r="0.85"/><circle cx="584.8" cy="92.9" r="0.85"/><circle cx="590.0" cy="95.7" r="0.85"/><circle cx="600.5" cy="101.4" r="0.85"/><circle cx="605.8" cy="104.2" r="0.85"/><circle cx="616.2" cy="109.8" r="0.85"/><circle cx="621.5" cy="112.6" r="0.85"/><circle cx="626.8" cy="115.4" r="0.85"/><circle cx="637.2" cy="121.0" r="0.85"/><circle cx="647.8" cy="126.6" r="0.85"/><circle cx="653.0" cy="129.5" r="0.85"/><circle cx="663.5" cy="135.1" r="0.85"/><circle cx="668.8" cy="137.9" r="0.85"/><circle cx="674.0" cy="140.7" r="0.85"/><circle cx="679.2" cy="143.5" r="0.85"/><circle cx="684.5" cy="146.3" r="0.85"/><circle cx="689.8" cy="149.1" r="0.85"/><circle cx="695.0" cy="151.9" r="0.85"/><circle cx="700.2" cy="154.7" r="0.85"/><circle cx="705.5" cy="157.5" r="0.85"/><circle cx="710.8" cy="160.3" r="0.85"/><circle cx="716.0" cy="163.2" r="0.85"/></g>
<circle cx="431.6" cy="4.2" r="2.3" fill="#fff" stroke="#2a2a2a" stroke-width="1.1"/><path d="M433.3 5.9L436.7 7.8" stroke="#2a2a2a" stroke-width="1.1"/><circle cx="469.8" cy="29.6" r="2.8" fill="#2a2a2a"/><circle cx="500.9" cy="49.4" r="2.8" fill="#2a2a2a"/><circle cx="528.8" cy="68.0" r="2.6" fill="#2a2a2a"/><circle cx="528.8" cy="65.2" r="2.2" fill="#fff" stroke="#2a2a2a" stroke-width="1.1"/><circle cx="553.0" cy="77.8" r="2.8" fill="#2a2a2a"/><path d="M571.5 90.8L578.3 90.8L574.9 85.8Z" fill="#2a2a2a"/><rect x="591.6" y="92.9" width="4.6" height="4.6" fill="#2a2a2a"/><circle cx="593.9" cy="98.8" r="2.5" fill="#2a2a2a"/><circle cx="611.9" cy="106.6" r="2.8" fill="#2a2a2a"/><rect x="626.1999999999999" y="115.7" width="5.2" height="5.2" fill="#2a2a2a"/><circle cx="644.0" cy="122.0" r="2.2" fill="#2a2a2a"/><circle cx="644.0" cy="127.4" r="2.4" fill="#fff" stroke="#2a2a2a" stroke-width="1.1"/><circle cx="657.8" cy="135.8" r="2.4" fill="#fff" stroke="#2a2a2a" stroke-width="1.1"/><rect x="655.6999999999999" y="130.9" width="4.2" height="4.2" fill="#2a2a2a"/><circle cx="718.2" cy="168.1" r="2.5" fill="#fff" stroke="#2a2a2a" stroke-width="1.1"/>
<text x="420" y="239.6" text-anchor="end" style="font-family:'Liberation Serif',serif;font-weight:bold;font-size:12.6px" fill="#262626">1</text>
<text x="420" y="154.1" text-anchor="end" style="font-family:'Liberation Serif',serif;font-weight:bold;font-size:12.6px" fill="#262626">10</text>
<text x="420" y="68.6" text-anchor="end" style="font-family:'Liberation Serif',serif;font-weight:bold;font-size:12.6px" fill="#262626">100</text>
<text x="420" y="9.6" text-anchor="end" style="font-family:'Liberation Serif',serif;font-weight:bold;font-size:12.6px" fill="#262626">500</text>
<text x="432.1" y="250.3" text-anchor="middle" style="font-family:'Liberation Serif',serif;font-weight:bold;font-size:13.1px" fill="#262626">5</text>
<text x="469.7" y="250.3" text-anchor="middle" style="font-family:'Liberation Serif',serif;font-weight:bold;font-size:13.1px" fill="#262626">6</text>
<text x="501.6" y="250.3" text-anchor="middle" style="font-family:'Liberation Serif',serif;font-weight:bold;font-size:13.1px" fill="#262626">7</text>
<text x="529.2" y="250.3" text-anchor="middle" style="font-family:'Liberation Serif',serif;font-weight:bold;font-size:13.1px" fill="#262626">8</text>
<text x="553.5" y="250.3" text-anchor="middle" style="font-family:'Liberation Serif',serif;font-weight:bold;font-size:13.1px" fill="#262626">9</text>
<text x="575.2" y="250.3" text-anchor="middle" style="font-family:'Liberation Serif',serif;font-weight:bold;font-size:13.1px" fill="#262626">10</text>
<text x="594.9" y="250.3" text-anchor="middle" style="font-family:'Liberation Serif',serif;font-weight:bold;font-size:13.1px" fill="#262626">11</text>
<text x="612.9" y="250.3" text-anchor="middle" style="font-family:'Liberation Serif',serif;font-weight:bold;font-size:13.1px" fill="#262626">12</text>
<text x="629.4" y="250.3" text-anchor="middle" style="font-family:'Liberation Serif',serif;font-weight:bold;font-size:13.1px" fill="#262626">13</text>
<text x="644.7" y="250.3" text-anchor="middle" style="font-family:'Liberation Serif',serif;font-weight:bold;font-size:13.1px" fill="#262626">14</text>
<text x="659.0" y="250.3" text-anchor="middle" style="font-family:'Liberation Serif',serif;font-weight:bold;font-size:13.1px" fill="#262626">15</text>
<text x="718.4" y="250.3" text-anchor="middle" style="font-family:'Liberation Serif',serif;font-weight:bold;font-size:13.1px" fill="#262626">20</text>
<text x="574.3" y="270.5" text-anchor="middle" style="font-family:'Liberation Serif',serif;font-weight:bold;font-size:13.5px" fill="#262626">n</text>
<text transform="translate(390.6 128.2) rotate(-90)" x="0" y="0" text-anchor="middle" textLength="116.0" lengthAdjust="spacing" style="font-family:'Liberation Serif',serif;font-weight:bold;font-size:14px" fill="#262626">THz Field (kV/cm)</text>
<text x="688.1" y="27.3" textLength="22.3" lengthAdjust="spacingAndGlyphs" style="font-family:'Liberation Sans',sans-serif;font-size:19.6px" fill="#444">(b)</text>
</svg>
</body></html>
